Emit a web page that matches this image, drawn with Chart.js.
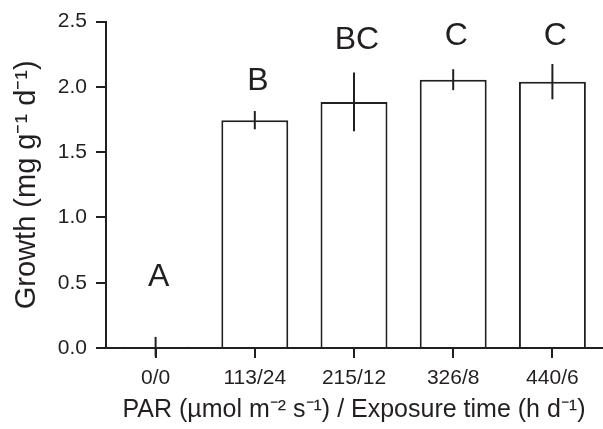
<!DOCTYPE html>
<html>
<head>
<meta charset="utf-8">
<script src="https://cdn.jsdelivr.net/npm/chart.js@4"></script>
<style>
  html, body { margin: 0; padding: 0; background: #fff; }
  #wrap { width: 603px; height: 429px; }
</style>
</head>
<body>
<div id="wrap"><canvas id="growth"></canvas></div>
<script>
'use strict';

// Growth by light treatment

var categories = ['0/0', '113/24', '215/12', '326/8', '440/6'];
var growth = [0.01, 1.745, 1.885, 2.055, 2.04];
var errors = [0.075, 0.07, 0.225, 0.08, 0.135];
var letters = ['A', 'B', 'BC', 'C', 'C'];
var letterY = [0.54, 2.045, 2.355, 2.39, 2.39];
var yTicks = [0, 0.5, 1, 1.5, 2, 2.5];

var ink = '#231f20';
var face = 'Liberation Sans, Arial, Helvetica, sans-serif';

var errorBars = {
	id: 'errorBars',
	afterDatasetsDraw: function (chart) {
		var ctx = chart.ctx;
		var x = chart.scales.x;
		var y = chart.scales.y;
		ctx.save();
		ctx.strokeStyle = ink;
		ctx.lineWidth = 2;
		growth.forEach(function (v, i) {
			var px = x.getPixelForValue(i);
			ctx.beginPath();
			ctx.moveTo(px, y.getPixelForValue(v - errors[i]));
			ctx.lineTo(px, y.getPixelForValue(v + errors[i]));
			ctx.stroke();
		});
		ctx.fillStyle = ink;
		ctx.font = '32px ' + face;
		ctx.textAlign = 'center';
		ctx.textBaseline = 'middle';
		letters.forEach(function (t, i) {
			ctx.fillText(t, x.getPixelForValue(i) + 3, y.getPixelForValue(letterY[i]));
		});
		ctx.restore();
	}
};

var ctx = document.getElementById('growth');

var growthChart = new Chart(ctx, {
	type: 'bar',
	data: {
		labels: categories,
		datasets: [{
			data: growth,
			backgroundColor: '#ffffff',
			borderColor: ink,
			borderWidth: 2,
			barPercentage: 0.675,
			categoryPercentage: 1
		}]
	},
	options: {
		responsive: true,
		maintainAspectRatio: false,
		animation: false,
		layout: { padding: { top: 18, right: 1, left: 0, bottom: 0 } },
		plugins: {
			legend: { display: false },
			tooltip: { enabled: false }
		},
		scales: {
			x: {
				offset: true,
				grid: { offset: false, drawOnChartArea: false, color: ink, lineWidth: 2, tickLength: 10 },
				border: { color: ink, width: 2 },
				ticks: { color: ink, padding: 8, font: { family: face, size: 21 } },
				title: {
					display: true,
					text: 'PAR (\u00b5mol m\u207b\u00b2 s\u207b\u00b9) / Exposure time (h d\u207b\u00b9)',
					color: ink,
					font: { family: face, size: 25 },
					padding: { top: 0, bottom: 4 }
				},
				afterFit: function (s) { s.height = 81; }
			},
			y: {
				min: 0,
				max: 2.5,
				afterBuildTicks: function (s) {
					s.ticks = yTicks.map(function (v) { return { value: v }; });
				},
				grid: { drawOnChartArea: false, color: ink, lineWidth: 2, tickLength: 10 },
				border: { color: ink, width: 2 },
				ticks: {
					color: ink,
					padding: 9,
					font: { family: face, size: 21 },
					callback: function (v) { return v.toFixed(1); }
				},
				title: {
					display: true,
					text: 'Growth (mg g\u207b\u00b9 d\u207b\u00b9)',
					color: ink,
					font: { family: face, size: 29 },
					padding: { top: 10, bottom: 0 }
				},
				afterFit: function (s) { s.width = 106; }
			}
		}
	},
	plugins: [errorBars]
});
</script>
</body>
</html>
